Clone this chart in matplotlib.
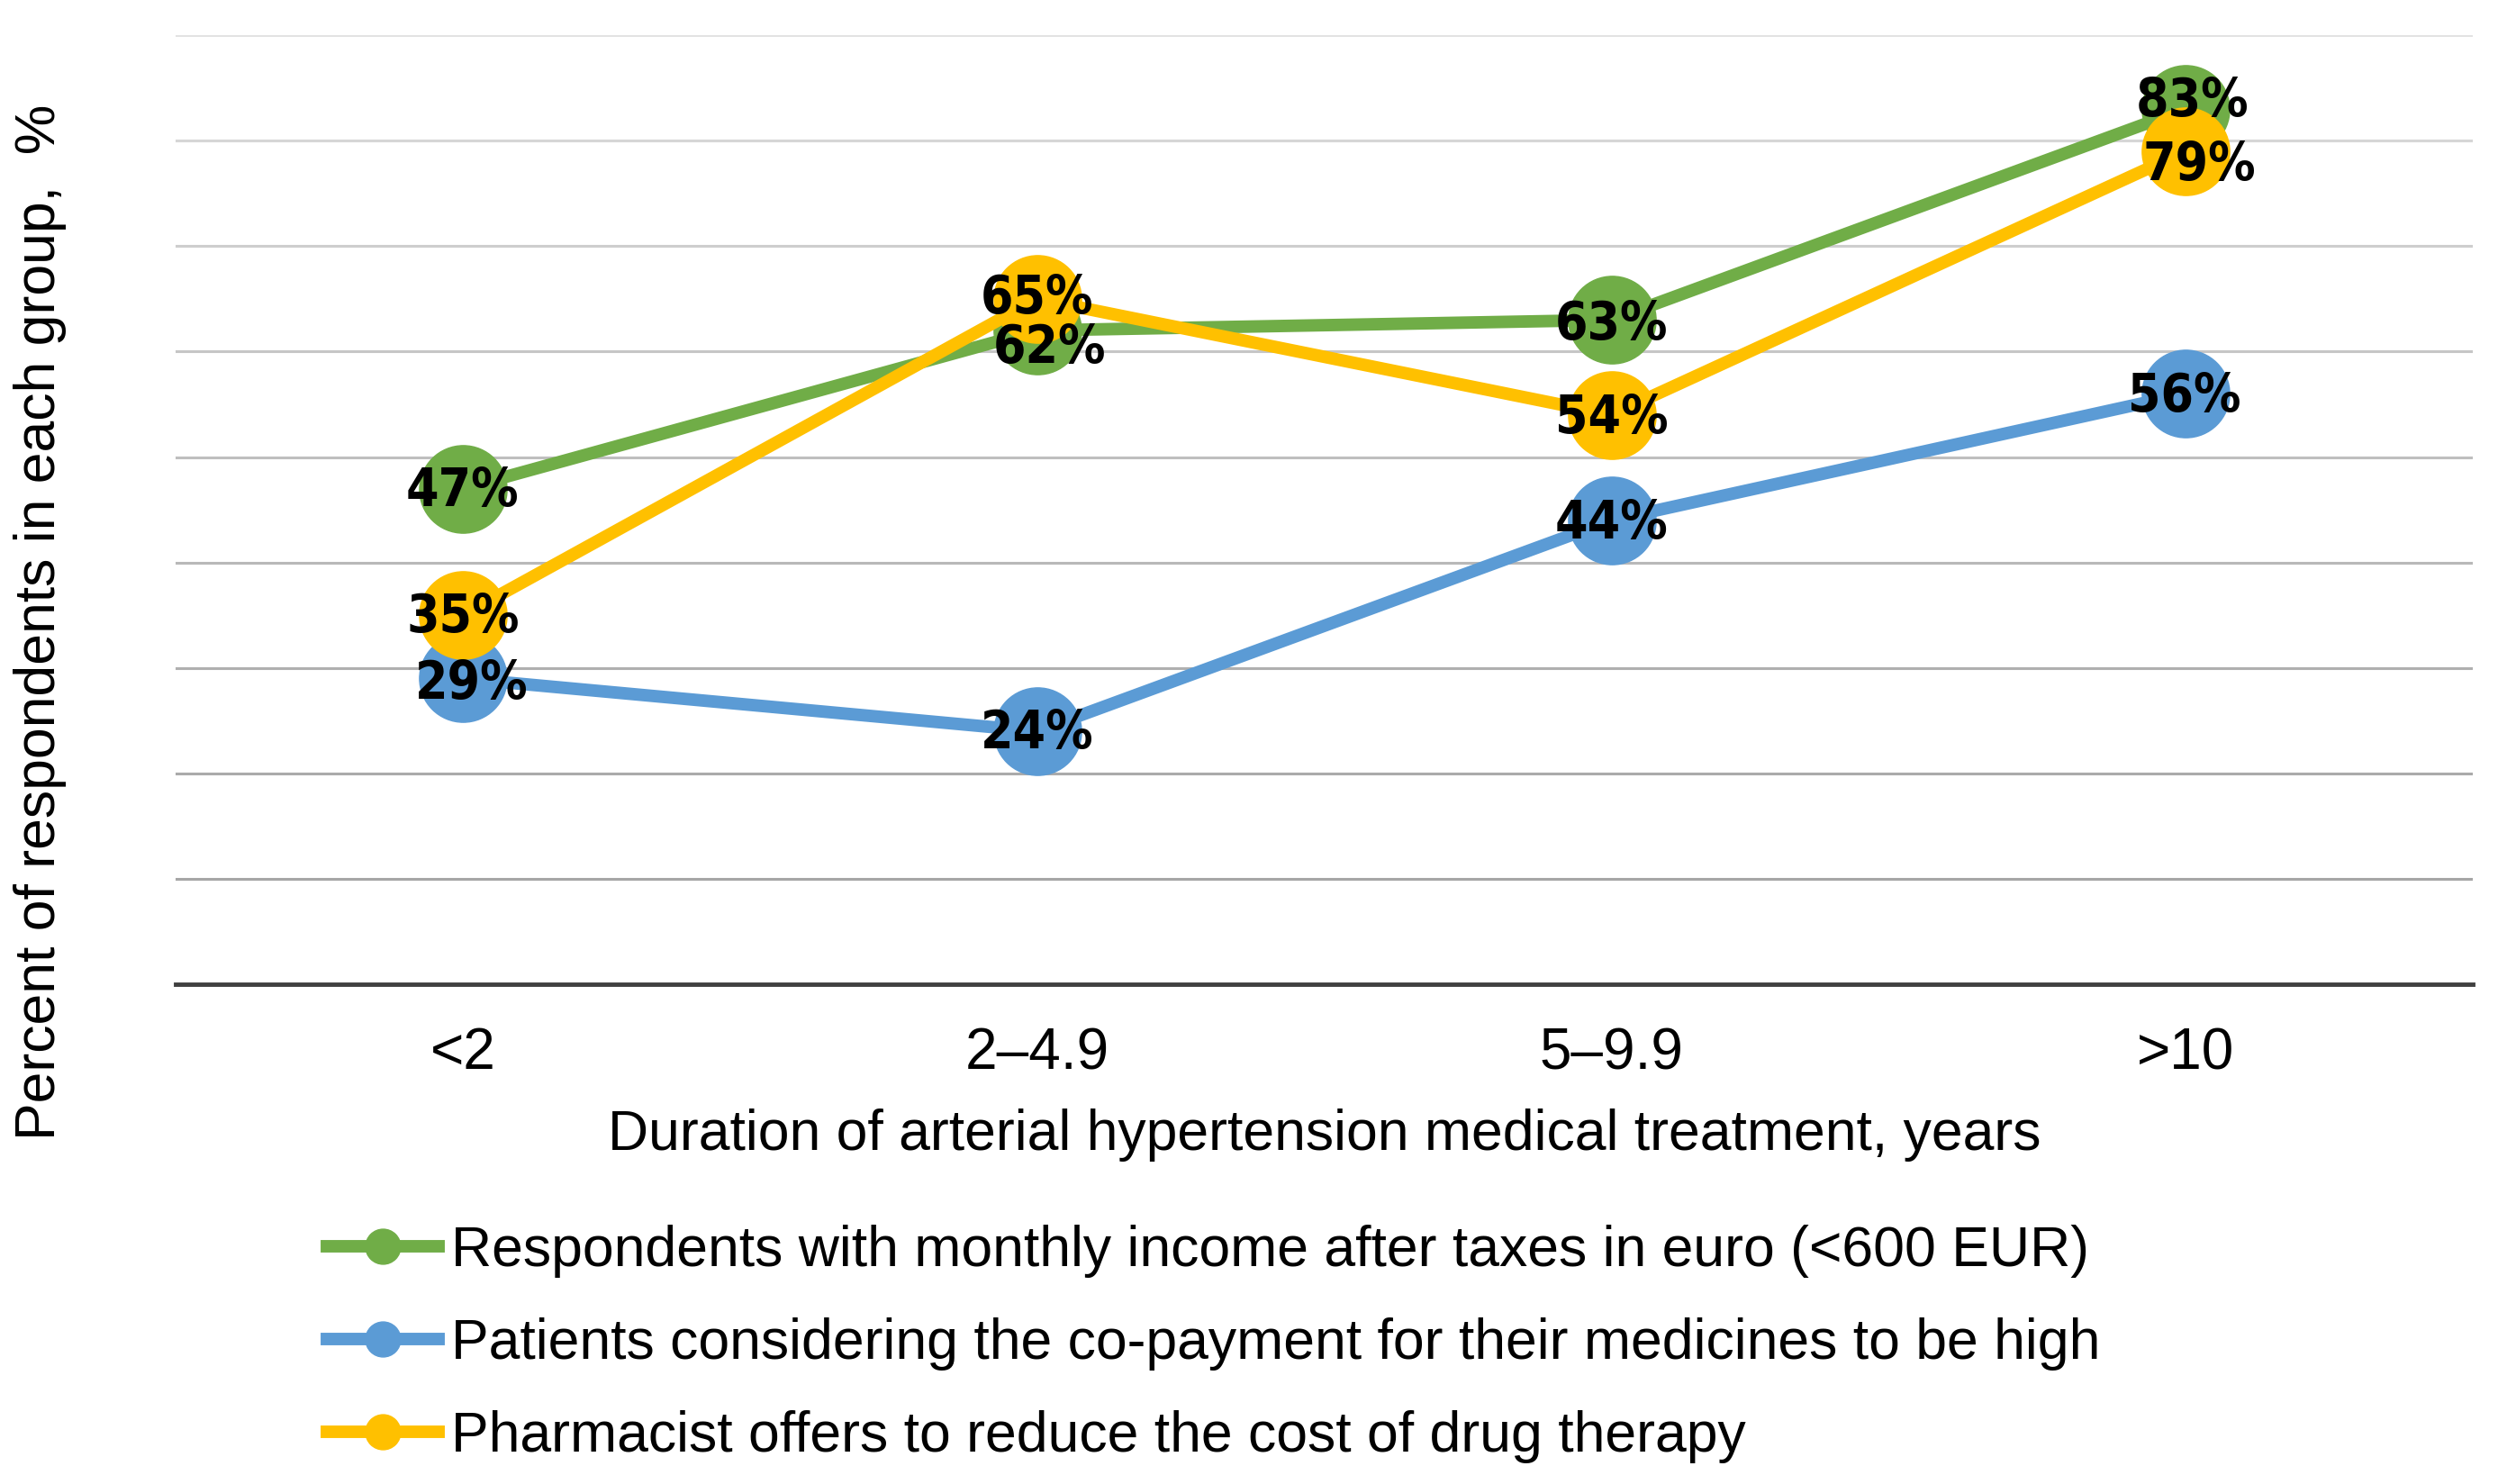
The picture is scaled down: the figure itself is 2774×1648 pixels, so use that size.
import matplotlib
matplotlib.use("Agg")
import matplotlib.pyplot as plt
from matplotlib.lines import Line2D

# Data
categories = ["<2", "2\u20134.9", "5\u20139.9", ">10"]
income_low = [47, 62, 63, 83]
copay_high = [29, 24, 44, 56]
pharmacist = [35, 65, 54, 79]

series_names = [
    "Respondents with monthly income after taxes in euro (<600 EUR)",
    "Patients considering the co-payment for their medicines to be high",
    "Pharmacist offers to reduce the cost of drug therapy",
]
colors = ["#70ad47", "#5b9bd5", "#ffc000"]

# label offsets in points (dx, dy)
label_offsets = [
    [(0, -2), (10, -14), (0, -4), (5, 6)],
    [(7, -4), (0, -2), (0, -3), (-1, -2)],
    [(0, -2), (0, 0), (0, -3), (11, -11)],
]

plt.rcParams["font.family"] = ["Liberation Sans", "DejaVu Sans"]

fig = plt.figure(figsize=(27.74, 16.48), dpi=100)
ax = fig.add_axes([0.0703, 0.3367, 0.9197, 0.6396])

x = [i + 0.5 for i in range(len(categories))]
all_series = [income_low, copay_high, pharmacist]

for vals, col, name in zip(all_series, colors, series_names):
    ax.plot(x, vals, color=col, lw=10, marker="o", markersize=70,
            label=name, zorder=3)

for vals, offs in zip(all_series, label_offsets):
    for xi, v, (dx, dy) in zip(x, vals, offs):
        ax.annotate(f"{v}%", (xi, v), xytext=(dx, dy), textcoords="offset points",
                    ha="center", va="center", fontsize=42, fontweight="bold",
                    family="DejaVu Sans", fontstretch="condensed", zorder=5)

ax.set_xlim(0, 4)
ax.set_ylim(0, 90)
ax.set_xticks(x)
ax.set_xticklabels(categories, fontsize=46)
ax.set_yticks(range(10, 100, 10))
ax.tick_params(axis="x", length=0, pad=34)
ax.tick_params(axis="y", length=0, labelleft=False)

ax.yaxis.grid(True, lw=2.2)
grid_cols = ["#a6a6a6", "#aaaaaa", "#b0b0b0", "#b8b8b8", "#bfbfbf",
             "#c6c6c6", "#cecece", "#d6d6d6", "#e2e2e2"]
for gl, gc in zip(ax.yaxis.get_gridlines(), grid_cols):
    gl.set_color(gc)
ax.set_axisbelow(True)

for s in ["top", "right", "left"]:
    ax.spines[s].set_visible(False)
ax.spines["bottom"].set_color("#404040")
ax.spines["bottom"].set_linewidth(3.5)

ax.set_xlabel("Duration of arterial hypertension medical treatment, years", fontsize=45, va="center")
ax.xaxis.set_label_coords(0.5, -0.159)
ax.set_ylabel("Percent of respondents in each group,  %", fontsize=45, va="center")
ax.yaxis.set_label_coords(-0.059, 0.382)

handles = [Line2D([0], [0], color=c, lw=10, marker="o", markersize=28) for c in colors]
fig.legend(handles, series_names, loc="upper left", bbox_to_anchor=(0.1309, 0.175),
           frameon=False, fontsize=45, handlelength=1.98, handletextpad=0.22,
           labelspacing=0.71, borderpad=0, borderaxespad=0)

fig.savefig("out.png", dpi=100)
